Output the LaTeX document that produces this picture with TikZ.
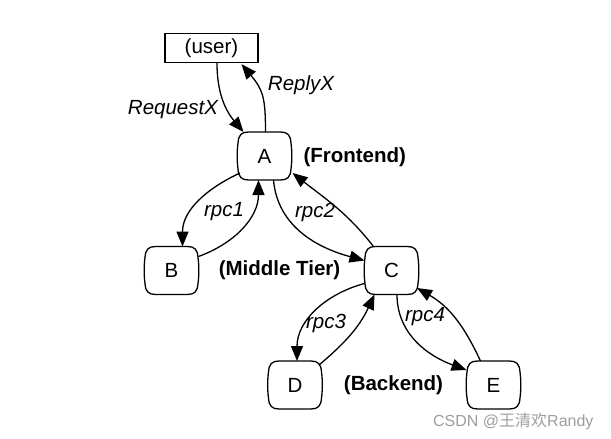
\documentclass[tikz,border=0pt]{standalone}
\usepackage{fontspec}
\setmainfont{Liberation Sans}
\newfontfamily\cjk{Noto Sans CJK SC}
\usetikzlibrary{arrows.meta,calc}
\tikzset{
  box/.style={minimum width=54pt,minimum height=48pt,inner sep=0pt,font=\fontsize{20.5}{24}\selectfont},
  userbox/.style={draw,line width=1.3pt,minimum width=93pt,minimum height=29pt,inner sep=0pt,font=\fontsize{20.5}{24}\selectfont},
  arr/.style={line width=1.3pt,-{Triangle[length=15pt,width=12pt]}},
  lab/.style={font=\fontsize{20.5}{24}\selectfont\itshape},
  tier/.style={font=\fontsize{20.5}{24}\selectfont\bfseries},
  wm/.style={text=black!38,font=\fontsize{16}{18}\selectfont}
}
\begin{document}
\begin{tikzpicture}[x=1pt,y=1pt]
\useasboundingbox (0,0) rectangle (611,-439);
\node[userbox] (user) at (211.5,-48) {(user)};
\node[box] (A) at (264.5,-156) {A};
\node[box] (B) at (171.5,-270.5) {B};
\node[box] (C) at (391.5,-270.5) {C};
\node[box] (D) at (295,-385) {D};
\node[box] (E) at (493.5,-385) {E};
\foreach \n in {A,B,C,D,E}{
  \draw[line width=1.3pt,shift={(\n.center)}]
    (-16,24) -- (16,24) .. controls (23,24) and (26,21) .. (26.5,13)
    .. controls (27.6,5) and (27.6,-5) .. (26.5,-13)
    .. controls (26,-21) and (23,-24) .. (16,-24) -- (-16,-24)
    .. controls (-23,-24) and (-26,-21) .. (-26.5,-13)
    .. controls (-27.6,-5) and (-27.6,5) .. (-26.5,13)
    .. controls (-26,21) and (-23,24) .. (-16,24) -- cycle;
}
% user <-> A
\draw[arr] ($(user.south)+(5.5,0)$) to[out=-90,in=130] ($(A)+(-21,24)$);
\draw[arr] ($(A)+(1,24)$) to[out=90,in=-50,looseness=1.2] ($(user.south)+(30,-1)$);
% A <-> B
\draw[arr] ($(A)+(-24.5,-17)$) to[out=205,in=90] ($(B)+(11,24)$);
\draw[arr] ($(B)+(27,14)$) to[out=20,in=-90] ($(A)+(-6,-24)$);
% A <-> C
\draw[arr] ($(A)+(9,-24)$) to[out=-85,in=165] ($(C)+(-27,10)$);
\draw[arr] ($(C)+(-18,24)$) to[out=128,in=-38] ($(A)+(28,-17)$);
% C <-> D
\draw[arr] ($(C)+(-27,-13)$) to[out=195,in=90] ($(D)+(2,24)$);
\draw[arr] ($(D)+(24,20)$) to[out=40,in=-115] ($(C)+(-17,-24)$);
% C <-> E
\draw[arr] ($(C)+(5.5,-24)$) to[out=-90,in=160] ($(E)+(-27,15)$);
\draw[arr] ($(E)+(-13,24)$) to[out=115,in=-30] ($(C)+(25.5,-17.5)$);
% labels
\node[lab] (lreq) at (173,-110) {RequestX};
\node[lab] (lrep) at (301,-85) {ReplyX};
\node[lab] (l1) at (224,-212) {rpc1};
\node[lab] (l2) at (315,-212) {rpc2};
\node[lab] (l3) at (326,-323) {rpc3};
\node[lab] (l4) at (425,-317) {rpc4};
\node[tier,anchor=west] (tf) at (300,-157) {(Frontend)};
\node[tier] (tm) at (279.5,-270) {(Middle Tier)};
\node[tier] (tb) at (393.5,-385) {(Backend)};
\node[wm,anchor=east] (w) at (597,-421) {CSDN @{\cjk 王清欢}Randy};
\end{tikzpicture}
\end{document}
